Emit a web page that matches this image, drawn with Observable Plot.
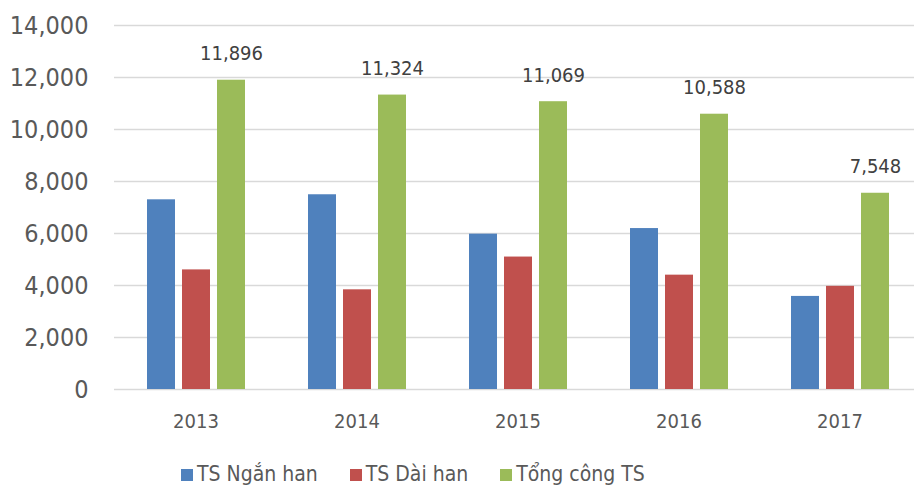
<!DOCTYPE html>
<html><head><meta charset="utf-8">
<script src="https://cdn.jsdelivr.net/npm/d3@7"></script>
<script src="https://cdn.jsdelivr.net/npm/@observablehq/plot@0.6"></script>
<style>
body{margin:0;background:#fff;overflow:hidden;font-family:"DejaVu Sans Condensed","DejaVu Sans",sans-serif;}
#chart{position:relative;width:914px;height:487px;overflow:hidden;background:#fff;}
#chart svg{position:absolute;left:0;top:0;}
.legend{position:absolute;left:181px;top:464px;display:flex;align-items:baseline;gap:32px;font-size:21px;line-height:1;color:#595959;white-space:nowrap;}
.legend .item{display:flex;align-items:baseline;}
.legend .sw{display:inline-block;width:12px;height:12px;margin-right:4px;}
</style>
</head><body>
<div id="chart"></div>
<script>
const years = ["2013", "2014", "2015", "2016", "2017"];
const series = ["TS Ngắn han", "TS Dài han", "Tổng công TS"];
const colors = ["#4F81BD", "#C0504D", "#9BBB59"];
const shortTerm = [7296, 7490, 5975, 6190, 3580];
const longTerm = [4600, 3834, 5094, 4398, 3968];
const total = [11896, 11324, 11069, 10588, 7548];
const yTicks = [0, 2000, 4000, 6000, 8000, 10000, 12000, 14000];

const valuesBySeries = [shortTerm, longTerm, total];
const data = [];
years.forEach((yr, i) => {
  series.forEach((s, j) => data.push({year: yr, series: s, value: valuesBySeries[j][i]}));
});
const totals = years.map((yr, i) => ({year: yr, series: series[2], value: total[i]}));

const fmt = d3.format(",");
const font = '"DejaVu Sans Condensed","DejaVu Sans",sans-serif';
const dims = {width: 914, height: 445, marginLeft: 114, marginRight: -7.5, marginTop: 25, marginBottom: 56};

// Layer 1: grid lines and y axis spanning the full frame
const grid = Plot.plot({
  ...dims,
  style: {fontFamily: font, background: "transparent", overflow: "hidden"},
  x: {domain: [0, 1], axis: null},
  y: {domain: [0, 14000], axis: null},
  marks: [
    Plot.ruleY(yTicks, {stroke: "#d9d9d9", strokeWidth: 1.5}),
    Plot.axisY({ticks: yTicks, tickSize: 0, tickPadding: 26, fontSize: 25, fill: "#595959", tickFormat: fmt, label: null})
  ]
});

// Layer 2: grouped bars, faceted by year
const bars = Plot.plot({
  ...dims,
  style: {fontFamily: font, background: "transparent", overflow: "hidden"},
  fx: {domain: years, paddingInner: 0.387, paddingOuter: 0.1935, axis: null, label: null},
  x: {domain: series, paddingInner: 0.211, paddingOuter: 0, axis: null},
  y: {domain: [0, 14000], axis: null},
  color: {domain: series, range: colors},
  marks: [
    Plot.barY(data, {fx: "year", x: "series", y: "value", fill: "series"}),
    Plot.text(totals, {fx: "year", x: "series", y: "value", text: d => fmt(d.value), lineAnchor: "bottom", dy: -20, fontSize: 20, fill: "#404040"}),
    Plot.axisFx({anchor: "bottom", tickSize: 0, tickPadding: 24, fontSize: 20, fill: "#595959", label: null})
  ]
});

const host = document.getElementById("chart");
host.appendChild(grid);
host.appendChild(bars);

const legend = document.createElement("div");
legend.className = "legend";
series.forEach((s, j) => {
  const item = document.createElement("span");
  item.className = "item";
  const sw = document.createElement("span");
  sw.className = "sw";
  sw.style.background = colors[j];
  const t = document.createElement("span");
  t.textContent = s;
  item.appendChild(sw);
  item.appendChild(t);
  legend.appendChild(item);
});
host.appendChild(legend);
</script>
</body></html>
